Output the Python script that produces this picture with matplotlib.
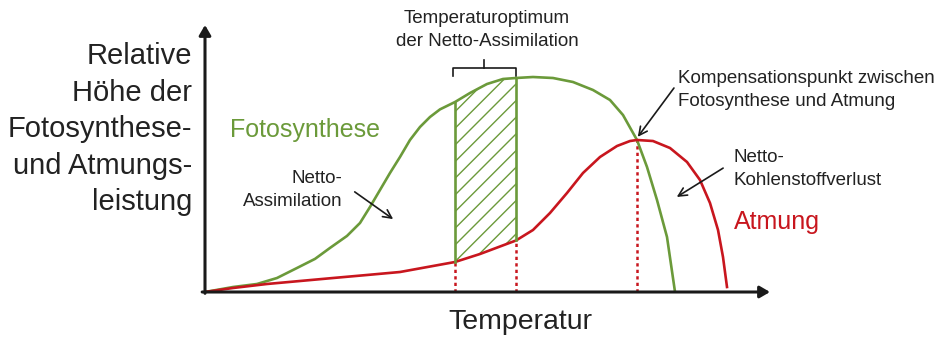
import matplotlib.pyplot as plt
import numpy as np

plt.rcParams['font.family'] = ['Liberation Sans', 'DejaVu Sans']
plt.rcParams['hatch.linewidth'] = 1.0

foto_t = [0, 4.96, 9.20, 12.74, 16.28, 19.47, 22.12, 25.13, 27.43, 29.20, 30.97, 32.74,
          34.51, 36.28, 38.05, 39.82, 41.59, 44.25, 46.90, 49.91, 52.74, 55.04, 58.05,
          61.59, 65.13, 68.67, 71.68, 73.98, 76.46, 78.23, 80.00, 81.77, 83.19]
foto_h = [0, 1.87, 3.00, 5.24, 8.99, 12.40, 16.50, 21.00, 25.84, 31.84, 38.20, 44.57,
          50.56, 56.93, 61.80, 65.54, 68.40, 71.16, 74.53, 77.90, 79.78, 80.15, 80.52,
          80.15, 78.65, 75.66, 71.91, 66.29, 56.93, 46.82, 34.46, 20.60, 0]

atm_t = [0, 4.96, 10.97, 16.81, 22.65, 28.67, 34.51, 40.35, 44.25, 48.67, 55.04, 58.05,
         61.06, 64.07, 66.90, 69.91, 72.92, 75.22, 76.46, 79.29, 82.30, 85.31, 87.61,
         89.38, 90.80, 91.68, 92.39]
atm_h = [0, 1.50, 3.00, 4.12, 5.24, 6.37, 7.49, 9.74, 11.24, 14.23, 19.29, 23.22,
         29.59, 37.08, 44.57, 50.56, 54.68, 56.55, 56.93, 56.55, 53.93, 48.69, 41.95,
         33.33, 23.22, 13.11, 1.87]

opt_lo, opt_hi = 44.25, 55.04    # Temperaturoptimum
komp_t = 76.46                   # Kompensationspunkt

gruen = "#6b9a3a"
rot = "#c8161e"
schwarz = "#222222"

fig = plt.figure(figsize=(9.47, 3.41), dpi=100)
ax = fig.add_axes([205/947, 49/341, 565/947, 267/341])
ax.set_xlim(0, 100)
ax.set_ylim(0, 100)
ax.axis("off")

ft = np.array(foto_t); fh = np.array(foto_h)
at = np.array(atm_t); ah = np.array(atm_h)

def wert(t_arr, h_arr, t):
    return h_arr[np.isclose(t_arr, t)][0]

# schraffierte Flaeche zwischen den Kurven
m1 = (ft >= opt_lo) & (ft <= opt_hi)
m2 = (at >= opt_lo) & (at <= opt_hi)
poly_x = np.concatenate([ft[m1], at[m2][::-1]])
poly_y = np.concatenate([fh[m1], ah[m2][::-1]])
ax.fill(poly_x, poly_y, facecolor="none", edgecolor=gruen, hatch="//", linewidth=0)

# Kurven
ax.plot(ft, fh, color=gruen, lw=1.9, solid_joinstyle="round", zorder=3)
ax.plot(at, ah, color=rot, lw=1.9, solid_joinstyle="round", zorder=3)

# gruene Begrenzungen
for t in (opt_lo, opt_hi):
    ax.plot([t, t], [wert(at, ah, t), wert(ft, fh, t)], color=gruen, lw=1.9, zorder=3)

# rote gepunktete Linien
for t in (opt_lo, opt_hi, komp_t):
    ax.plot([t, t], [0, wert(at, ah, t)], color=rot, lw=1.8, linestyle=(0, (1.3, 1.3)), zorder=2)

# Achsen mit Pfeilen
arrow = dict(arrowstyle="-|>,head_length=0.6,head_width=0.35", color="#1a1a1a", lw=2.2,
             shrinkA=0, shrinkB=0)
ax.annotate("", xy=(0, 100), xytext=(0, -0.5), arrowprops=arrow, annotation_clip=False)
ax.annotate("", xy=(100, 0), xytext=(-0.5, 0), arrowprops=arrow, annotation_clip=False)

# Klammer Temperaturoptimum
ax.plot([43.9, 43.9, 55.0, 55.0], [80.9, 83.9, 83.9, 80.9], color="#1a1a1a", lw=1.2, clip_on=False)
ax.plot([49.4, 49.4], [83.9, 86.9], color="#1a1a1a", lw=1.2, clip_on=False)
ax.text(49.9, 98.1, "Temperaturoptimum\nder Netto-Assimilation", ha="center", va="center",
        fontsize=13.5, linespacing=1.5, color=schwarz)

# Beschriftungen
ax.text(4.4, 60.7, "Fotosynthese", color=gruen, fontsize=18, ha="left", va="center")
ax.text(93.6, 26.2, "Atmung", color=rot, fontsize=18, ha="left", va="center")
ax.text(24.4, 38.2, "Netto-\nAssimilation", ha="right", va="center", multialignment="right",
        fontsize=13.5, linespacing=1.5, color=schwarz)
ax.text(83.7, 75.7, "Kompensationspunkt zwischen\nFotosynthese und Atmung", ha="left", va="center",
        fontsize=13.5, linespacing=1.5, color=schwarz)
ax.text(93.6, 46.1, "Netto-\nKohlenstoffverlust", ha="left", va="center",
        fontsize=13.5, linespacing=1.5, color=schwarz)

pfeil = dict(arrowstyle="->,head_length=0.6,head_width=0.3", color="#1a1a1a", lw=1.2,
             shrinkA=0, shrinkB=0)
ax.annotate("", xy=(33.3, 27.3), xytext=(26.5, 37.5), arrowprops=pfeil)
ax.annotate("", xy=(76.6, 58.1), xytext=(83.0, 76.4), arrowprops=pfeil, annotation_clip=False)
ax.annotate("", xy=(83.5, 35.6), xytext=(91.7, 46.4), arrowprops=pfeil, annotation_clip=False)

ax.text(55.8, -11.2, "Temperatur", ha="center", va="center", fontsize=20.5, color=schwarz)
ax.text(-2.3, 61.0, "Relative\nHöhe der\nFotosynthese-\nund Atmungs-\nleistung", ha="right",
        va="center", multialignment="right", fontsize=21, linespacing=1.39, color=schwarz)

fig.savefig("out.png", dpi=100)
